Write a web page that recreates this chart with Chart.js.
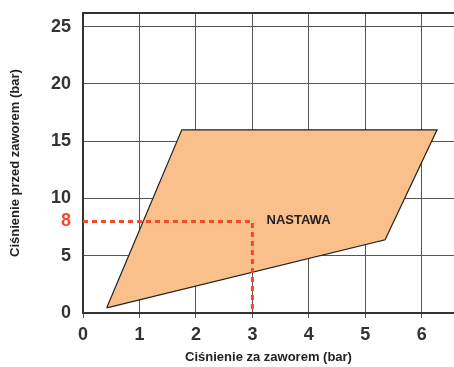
<!DOCTYPE html>
<html>
  <head>
    <meta charset="utf-8">
    <title>Nastawa</title>
    <script src="https://cdn.jsdelivr.net/npm/chart.js@4/dist/chart.umd.min.js"></script>
    <style>
      html, body { margin: 0; padding: 0; background: #fff; }
      #wrap { width: 454px; height: 367px; }
    </style>
  </head>
  <body>
    <div id="wrap"><canvas id="myChart"></canvas></div>

    <script>
      // pressure range of the valve (polygon corners, bar)
      var rangeX = [0.42, 1.75, 6.27, 5.35, 0.42];
      var rangeY = [0.45, 16, 16, 6.4, 0.45];
      // setpoint example
      var setX = [0, 3, 3];
      var setY = [8, 8, 0];
      var setLabel = 'NASTAWA';
      var yTicks = [0, 5, 8, 10, 15, 20, 25];
      var xTicks = [0, 1, 2, 3, 4, 5, 6];

      function pts(xs, ys) {
        return xs.map(function(x, i) { return { x: x, y: ys[i] }; });
      }

      var tickFont = { family: 'Liberation Sans', size: 18, weight: 'bold' };
      var titleFont = { family: 'Liberation Sans', size: 13, weight: 'bold' };
      var red = '#ef4b2c';

      // frame on top + text label
      var extras = {
        id: 'extras',
        afterDatasetsDraw: function(chart) {
          var c = chart.ctx, a = chart.chartArea;
          var xs = chart.scales.x, ys = chart.scales.y;
          c.save();
          c.strokeStyle = '#333';
          c.lineWidth = 2;
          c.beginPath();
          c.moveTo(a.left, a.top);
          c.lineTo(a.right, a.top);
          c.stroke();
          c.fillStyle = '#222';
          c.font = 'bold 13px "Liberation Sans"';
          c.textBaseline = 'middle';
          c.fillText(setLabel, xs.getPixelForValue(3.25), ys.getPixelForValue(8.1));
          c.restore();
        }
      };

      var ctx = document.getElementById('myChart').getContext('2d');
      var chart = new Chart(ctx, {
        type: 'scatter',
        data: {
          datasets: [{
            data: pts(rangeX, rangeY),
            showLine: true,
            fill: 'shape',
            backgroundColor: '#f9c08b',
            borderColor: '#222',
            borderWidth: 1.2,
            pointRadius: 0,
            tension: 0,
            order: 2
          }, {
            data: pts(setX, setY),
            showLine: true,
            fill: false,
            borderColor: red,
            borderWidth: 3,
            borderDash: [5, 4],
            pointRadius: 0,
            order: 1
          }]
        },
        options: {
          responsive: true,
          maintainAspectRatio: false,
          animation: false,
          layout: { padding: { top: 13, right: 0, left: 0, bottom: 0 } },
          plugins: { legend: { display: false }, tooltip: { enabled: false } },
          scales: {
            x: {
              type: 'linear',
              min: 0,
              max: 6.57,
              afterFit: function(s) { s.height = 54; s.paddingLeft = 0; s.paddingRight = 0; },
              afterBuildTicks: function(s) { s.ticks = xTicks.map(function(v) { return { value: v }; }); },
              grid: { color: '#555', lineWidth: 1, tickLength: 5 },
              border: { color: '#333', width: 2 },
              ticks: { font: tickFont, color: '#333', padding: 6 },
              title: {
                display: true,
                text: 'Ciśnienie za zaworem (bar)',
                font: titleFont,
                color: '#222',
                padding: { top: 0, bottom: 2 }
              }
            },
            y: {
              type: 'linear',
              min: 0,
              max: 26.2,
              afterFit: function(s) { s.width = 83; s.paddingTop = 0; s.paddingBottom = 0; },
              afterBuildTicks: function(s) { s.ticks = yTicks.map(function(v) { return { value: v }; }); },
              grid: {
                drawTicks: false,
                color: function(c) { return c.tick && c.tick.value === 8 ? 'rgba(0,0,0,0)' : '#555'; },
                lineWidth: 1
              },
              border: { color: '#333', width: 2 },
              ticks: {
                font: tickFont,
                padding: 12,
                color: function(c) { return c.tick && c.tick.value === 8 ? red : '#333'; }
              },
              title: {
                display: true,
                text: 'Ciśnienie przed zaworem (bar)',
                font: titleFont,
                color: '#222',
                padding: { top: 8, bottom: 0 }
              }
            }
          }
        },
        plugins: [extras]
      });
    </script>
  </body>
</html>
